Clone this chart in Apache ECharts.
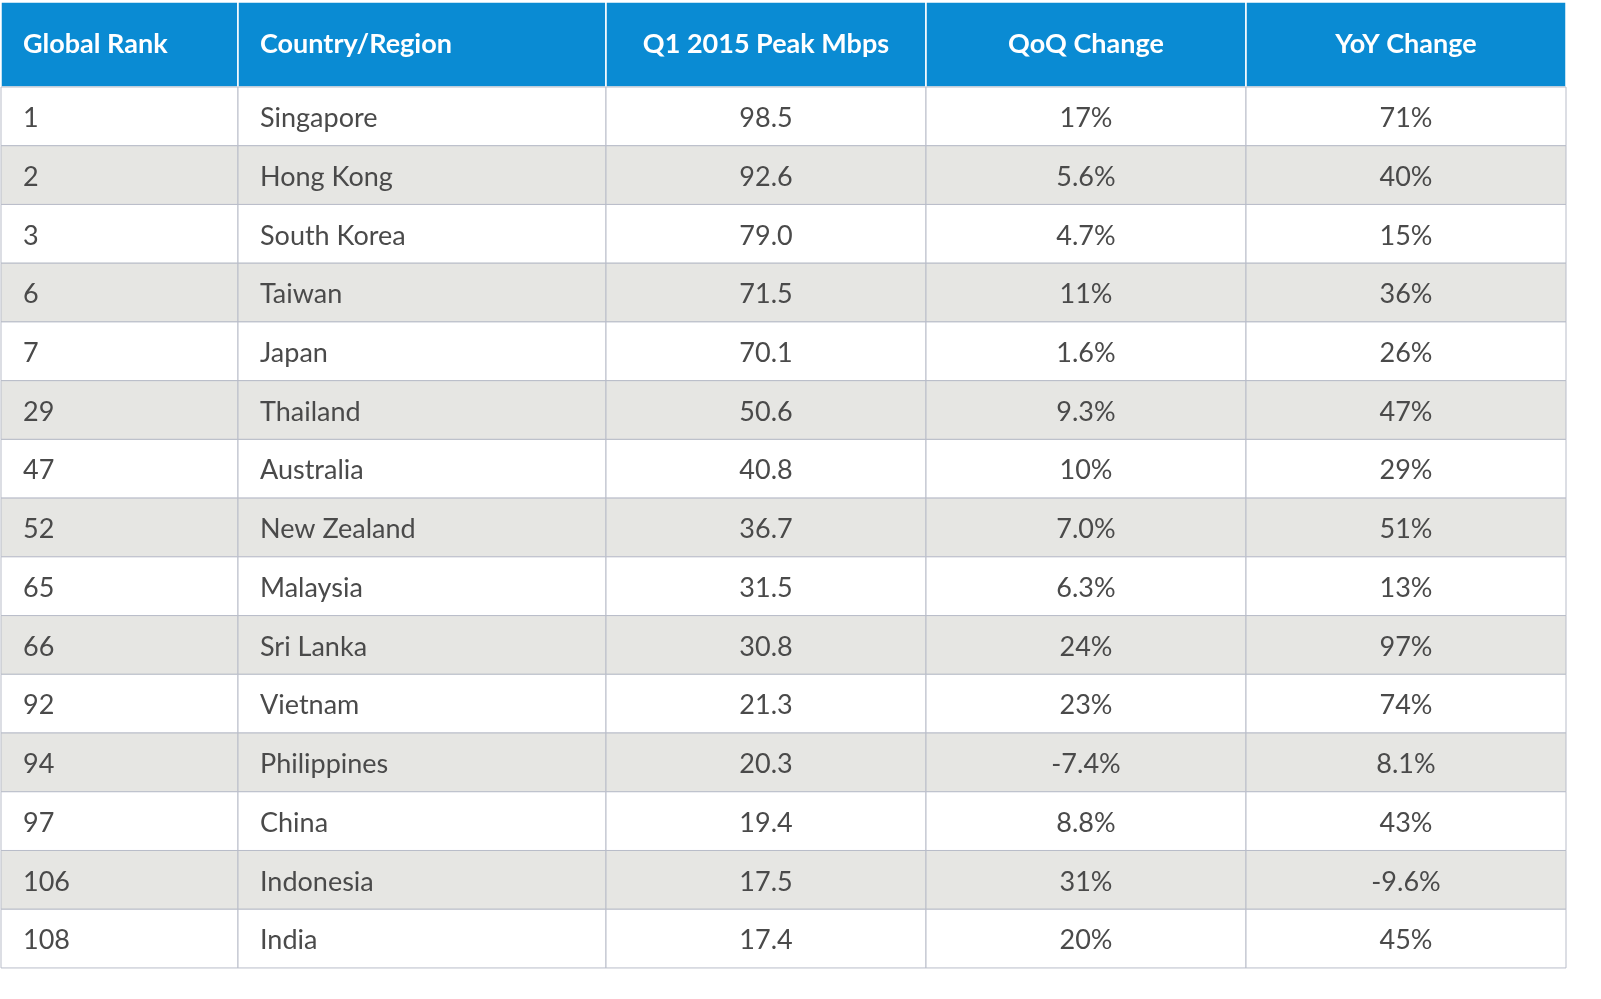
<!DOCTYPE html>
<html><head><meta charset="utf-8">
<script src="https://cdn.jsdelivr.net/npm/echarts@6/dist/echarts.min.js"></script>
<style>html,body{margin:0;padding:0;background:#fff}#c{width:1601px;height:999px}</style>
</head><body><div id="c"></div>
<script>
const headers = ["Global Rank","Country/Region","Q1 2015 Peak Mbps","QoQ Change","YoY Change"];
const ranks = ["1","2","3","6","7","29","47","52","65","66","92","94","97","106","108"];
const countries = ["Singapore","Hong Kong","South Korea","Taiwan","Japan","Thailand","Australia","New Zealand","Malaysia","Sri Lanka","Vietnam","Philippines","China","Indonesia","India"];
const peakMbps = ["98.5","92.6","79.0","71.5","70.1","50.6","40.8","36.7","31.5","30.8","21.3","20.3","19.4","17.5","17.4"];
const qoqChange = ["17%","5.6%","4.7%","11%","1.6%","9.3%","10%","7.0%","6.3%","24%","23%","-7.4%","8.8%","31%","20%"];
const yoyChange = ["71%","40%","15%","36%","26%","47%","29%","51%","13%","97%","74%","8.1%","43%","-9.6%","45%"];

const colEdges = [0, 237, 605, 925, 1245, 1565];
const headerH = 85, rowH = 58.73;
const aligns = ["left","left","center","center","center"];
const columns = [ranks, countries, peakMbps, qoqChange, yoyChange];

const data = [];
headers.forEach((h, c) => data.push([c, -1, h]));
for (let r = 0; r < ranks.length; r++) for (let c = 0; c < 5; c++) data.push([c, r, columns[c][r]]);

const chart = echarts.init(document.getElementById('c'));
chart.setOption({
  animation: false,
  grid: {left: 1, top: 2, width: 1565, height: headerH + rowH * ranks.length, containLabel: false, outerBoundsMode: 'none'},
  xAxis: {type: 'value', min: 0, max: 1565, show: false},
  yAxis: {type: 'value', min: 0, max: headerH + rowH * ranks.length, inverse: true, show: false},
  series: [{
    type: 'custom',
    data: data,
    clip: false,
    renderItem: function (params, api) {
      const c = api.value(0), r = api.value(1), txt = data[params.dataIndex][2];
      const y0v = r < 0 ? 0 : headerH + r * rowH;
      const y1v = r < 0 ? headerH : headerH + (r + 1) * rowH;
      const p0 = api.coord([colEdges[c], y0v]);
      const p1 = api.coord([colEdges[c + 1], y1v]);
      const isH = r < 0;
      const fill = isH ? '#0a8bd3' : (r % 2 === 1 ? '#e6e6e3' : '#ffffff');
      const left = aligns[c] === 'left';
      return {
        type: 'group',
        children: [
          {type: 'rect', shape: {x: p0[0], y: p0[1], width: p1[0] - p0[0], height: p1[1] - p0[1]},
           style: {fill: fill, stroke: isH ? '#ffffff' : '#b9bdc9', lineWidth: isH ? 1.5 : 1}},
          {type: 'text', x: left ? p0[0] + 22 : (p0[0] + p1[0]) / 2, y: (p0[1] + p1[1]) / 2 + (isH ? 0 : 2),
           style: {text: txt, align: left ? 'left' : 'center', verticalAlign: 'middle',
             fill: isH ? '#ffffff' : '#4a4a4a',
             font: (isH ? 'bold 27px ' : '27px ') + 'Lato, "Noto Sans", sans-serif'}}
        ]
      };
    }
  }]
});
</script></body></html>
